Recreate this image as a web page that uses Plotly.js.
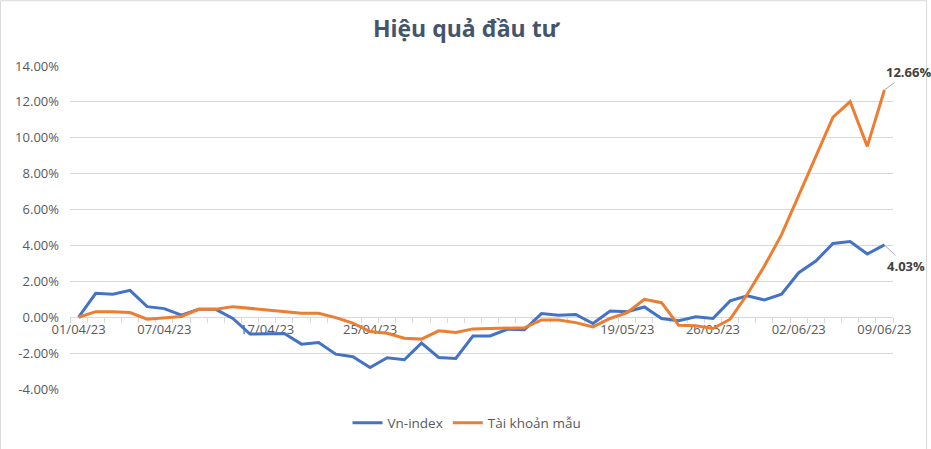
<!DOCTYPE html>
<html>
<head>
<meta charset="utf-8">
<script src="https://cdn.plot.ly/plotly-3.0.1.min.js"></script>
<style>
html,body{margin:0;padding:0;background:#fff;}
#chart{width:931px;height:449px;}
</style>
</head>
<body>
<div id="chart"></div>
<script>
// Trading-day categories
const dates = ['01/04/23','03/04/23','04/04/23','05/04/23','06/04/23','07/04/23',
  '10/04/23','11/04/23','12/04/23','13/04/23','14/04/23',
  '17/04/23','18/04/23','19/04/23','20/04/23','21/04/23',
  '24/04/23','25/04/23','26/04/23','27/04/23','28/04/23',
  '04/05/23','05/05/23',
  '08/05/23','09/05/23','10/05/23','11/05/23','12/05/23',
  '15/05/23','16/05/23','17/05/23','18/05/23','19/05/23',
  '22/05/23','23/05/23','24/05/23','25/05/23','26/05/23',
  '29/05/23','30/05/23','31/05/23','01/06/23','02/06/23',
  '05/06/23','06/06/23','07/06/23','08/06/23','09/06/23'];

// Cumulative return, percent
const vnIndex = [0, 1.33, 1.28, 1.50, 0.59, 0.48,
  0.11, 0.44, 0.44, -0.07, -0.94,
  -0.94, -0.91, -1.50, -1.41, -2.06,
  -2.20, -2.80, -2.26, -2.37, -1.44,
  -2.24, -2.30,
  -1.05, -1.04, -0.67, -0.70, 0.20,
  0.11, 0.15, -0.35, 0.35, 0.31,
  0.57, -0.07, -0.20, 0.02, -0.07,
  0.91, 1.19, 0.96, 1.28, 2.48,
  3.13, 4.11, 4.22, 3.52, 4.03];

const taiKhoanMau = [0, 0.31, 0.31, 0.26, -0.11, -0.05,
  0.04, 0.44, 0.44, 0.59, 0.50,
  0.44, 0.31, 0.22, 0.22, -0.02,
  -0.33, -0.80, -0.89, -1.17, -1.22,
  -0.76, -0.85,
  -0.65, -0.63, -0.63, -0.59, -0.15,
  -0.15, -0.30, -0.54, -0.07, 0.26,
  1.00, 0.81, -0.45, -0.48, -0.63,
  -0.11, 1.28, 2.85, 4.60, 6.83,
  8.96, 11.15, 12.02, 9.52, 12.66];

const seriesNames = ['Vn-index', 'Tài khoản mẫu'];
const labelDates = ['01/04/23','07/04/23','17/04/23','25/04/23','19/05/23','26/05/23','02/06/23','09/06/23'];
const yTicks = [-4, -2, 0, 2, 4, 6, 8, 10, 12, 14];

const xIdx = dates.map((d, i) => i);
const last = dates.length - 1;

const traces = [
  {x: xIdx, y: vnIndex, name: seriesNames[0], type: 'scatter', mode: 'lines',
   line: {color: '#4472C4', width: 3}},
  {x: xIdx, y: taiKhoanMau, name: seriesNames[1], type: 'scatter', mode: 'lines',
   line: {color: '#ED7D31', width: 3}}
];

const layout = {
  width: 931, height: 449,
  margin: {l: 70, r: 38, t: 66, b: 59},
  paper_bgcolor: '#ffffff', plot_bgcolor: '#ffffff',
  font: {family: 'Open Sans, sans-serif', color: '#595959', size: 12},
  title: {text: '<b>Hiệu quả đầu tư</b>', x: (466 - 70) / 823, xref: 'paper', y: 0.935, yanchor: 'middle',
          xanchor: 'center',
          font: {family: 'Open Sans, sans-serif', size: 23, color: '#44546A'}},
  showlegend: true,
  legend: {orientation: 'h', x: (467 - 70) / 823, xanchor: 'center', y: -0.102, yanchor: 'middle',
           font: {size: 13.5, color: '#595959'}, traceorder: 'normal', itemwidth: 30},
  xaxis: {
    range: [-0.5, last + 0.5], showgrid: false, zeroline: false,
    anchor: 'free', position: 4/18,
    showline: true, linecolor: '#d9d9d9', linewidth: 1,
    tickvals: labelDates.map(d => dates.indexOf(d)), ticktext: labelDates, tickangle: 0,
    ticks: '', tickfont: {size: 13, color: '#595959'},
    minor: {tick0: 0.5, dtick: 1, ticks: 'outside', ticklen: 5, tickcolor: '#d9d9d9', showgrid: false},
    layer: 'below traces', fixedrange: true
  },
  yaxis: {
    range: [-4, 14], tickvals: yTicks, ticktext: yTicks.map(v => v.toFixed(2) + '%'),
    showgrid: true, gridcolor: '#d9d9d9', gridwidth: 1, zeroline: false,
    showline: false, ticks: '', ticklabelstandoff: 10,
    tickfont: {size: 13, color: '#595959'}, layer: 'below traces', fixedrange: true
  },
  annotations: [
    {x: last, y: taiKhoanMau[last], xref: 'x', yref: 'y',
     text: '<b>' + taiKhoanMau[last].toFixed(2) + '%</b>',
     showarrow: true, arrowhead: 0, arrowwidth: 1, arrowcolor: '#a6a6a6',
     ax: 24, ay: -18, font: {size: 13, color: '#404040'}},
    {x: last, y: vnIndex[last], xref: 'x', yref: 'y',
     text: '<b>' + vnIndex[last].toFixed(2) + '%</b>',
     showarrow: true, arrowhead: 0, arrowwidth: 1, arrowcolor: '#a6a6a6',
     ax: 22, ay: 21, font: {size: 13, color: '#404040'}}
  ],
  shapes: [
    {type: 'rect', xref: 'paper', yref: 'paper',
     x0: -69.5/823, x1: (926.5-70)/823, y0: -0.3, y1: 389.5/324,
     line: {color: '#d9d9d9', width: 1}, fillcolor: 'rgba(0,0,0,0)', layer: 'below'}
  ]
};

Plotly.newPlot('chart', traces, layout, {staticPlot: true, displayModeBar: false});
</script>
</body>
</html>
